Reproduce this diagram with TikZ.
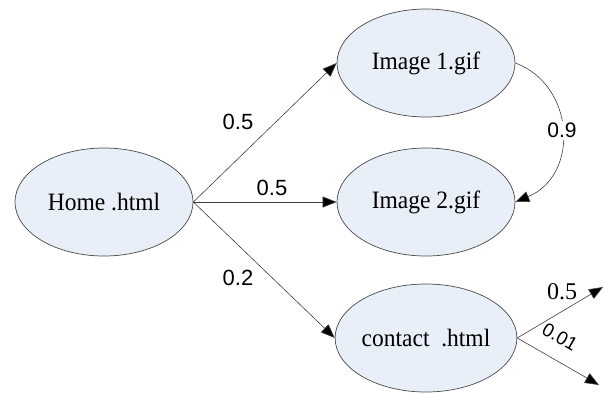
\documentclass[tikz,border=0pt]{standalone}
\usepackage{fontspec}
\setmainfont{Liberation Serif}
\newfontfamily\labelfont{Liberation Sans}
\newfontfamily\pagefont[FakeStretch=0.94]{Liberation Serif}
\usetikzlibrary{shapes.geometric,arrows.meta}
\definecolor{pagefill}{HTML}{E9EFF8}
\definecolor{edgegray}{HTML}{4A4A4A}
\tikzset{
  page/.style={ellipse, draw=edgegray, line width=0.7pt, fill=pagefill,
    minimum width=178pt, minimum height=108pt, inner sep=0pt,
    font=\pagefont\fontsize{25}{28}\selectfont},
  link/.style={draw=black!75, line width=0.6pt,
    -{Triangle[length=14pt,width=11pt,fill=black]}},
  prob/.style={font=\labelfont\fontsize{22}{24}\selectfont, inner sep=1pt},
  probserif/.style={font=\fontsize{24}{26}\selectfont, inner sep=1pt}
}
\begin{document}
\begin{tikzpicture}[x=1pt,y=-1pt]
  \useasboundingbox (0,0) rectangle (604,392);

  % pages
  \node[page] (home) at (104,202) {Home .html};
  \node[page] (img1) at (426,63)  {Image 1.gif};
  \node[page] (img2) at (426,202) {Image 2.gif};
  \node[page] (cont) at (426,338) {contact \ .html};

  % free ends of the links leaving the contact page
  \coordinate (outA) at (603,287);
  \coordinate (outB) at (599,385);

  % links from the home page
  \draw[link] (home.east) -- (img1.west);
  \draw[link] (home.east) -- (img2.west);
  \draw[link] (home.east) -- (cont.west);

  % link between the two images
  \draw[link] (img1.east) .. controls (575,85) and (580,175) .. (img2.east)
    node[pos=0.5, prob, fill=white, inner sep=2pt,
         font=\labelfont\fontsize{21}{23}\selectfont] (p09) {0.9};

  % links leaving the contact page
  \draw[link] (cont.east) -- (outA);
  \draw[link] (cont.east) -- (outB);

  % transition probabilities
  \node[prob] (p1) at (238,122) {0.5};
  \node[prob] (p2) at (272,188) {0.5};
  \node[prob] (p3) at (238,278) {0.2};
  \node[probserif] (p4) at (562,292) {0.5};
  \node[prob, rotate=-30, font=\labelfont\fontsize{19}{21}\selectfont]
    (p5) at (560,337) {0.01};
\end{tikzpicture}
\end{document}
